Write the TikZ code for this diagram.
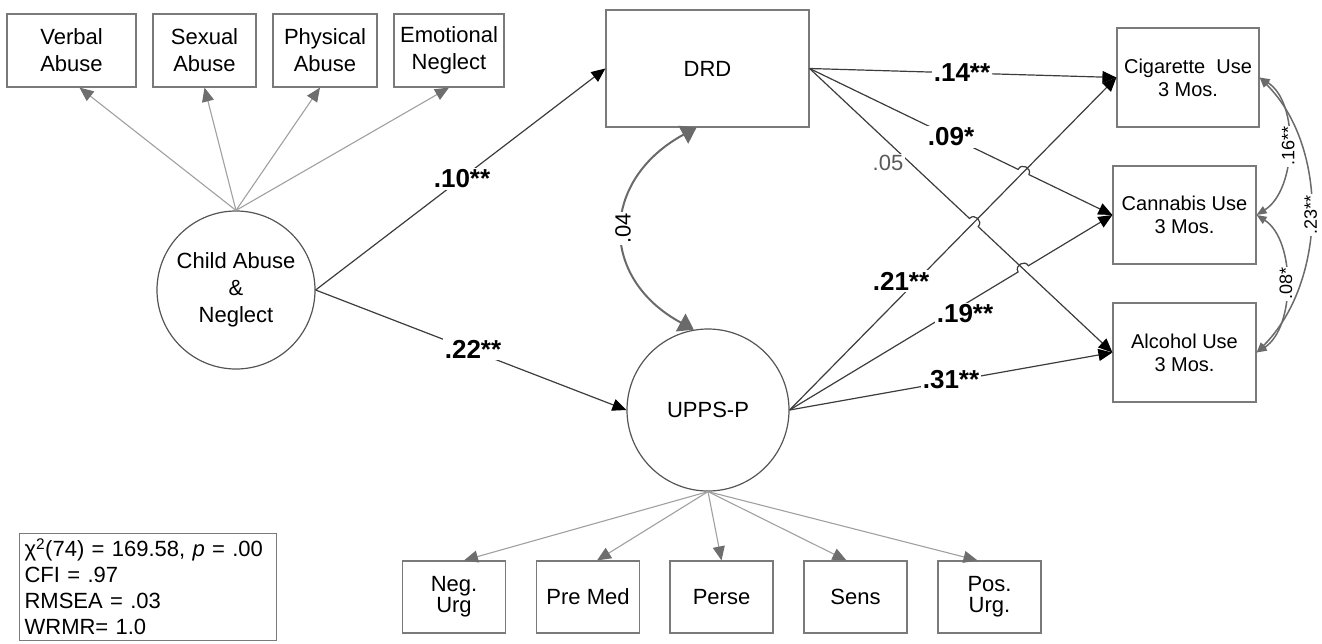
\documentclass[tikz,border=0pt]{standalone}
\usepackage{fontspec}
\setmainfont{Liberation Sans}
\usetikzlibrary{arrows.meta,calc,intersections}
\lineskiplimit=-30pt
\definecolor{boxgray}{HTML}{7A7A7A}
\definecolor{circgray}{HTML}{555555}
\definecolor{indgray}{HTML}{A0A0A0}
\definecolor{tipgray}{HTML}{6E6E6E}
\definecolor{linegray}{HTML}{3C3C3C}
\definecolor{covgray}{HTML}{6A6A6A}
\definecolor{lblgray}{HTML}{5A5A5A}
\begin{document}
\begin{tikzpicture}[x=1pt,y=-1pt,
  boxnode/.style={draw=boxgray,line width=1.2pt,inner sep=0pt,align=center,
    font=\fontsize{22}{27}\selectfont},
  outbox/.style={boxnode,font=\fontsize{20}{23}\selectfont},
  lowbox/.style={boxnode,minimum width=103pt,minimum height=72pt,
    font=\fontsize{22}{21}\selectfont},
  latent/.style={draw=circgray,line width=1.2pt,circle,inner sep=0pt,align=center,
    font=\fontsize{22}{27}\selectfont},
  indarrow/.style={draw=indgray,line width=1.1pt,-{Triangle[length=14pt,width=12pt,color=tipgray]}},
  patharrow/.style={draw=linegray,line width=1.2pt,-{Triangle[length=14pt,width=12pt,color=black]}},
  covbig/.style={draw=covgray,line width=2pt,
    {Triangle[length=15pt,width=20pt,color=covgray]}-{Triangle[length=15pt,width=20pt,color=covgray]}},
  covsmall/.style={draw=covgray,line width=1.5pt,
    {Triangle[length=10pt,width=8pt,color=covgray]}-{Triangle[length=10pt,width=8pt,color=covgray]}},
  coef/.style={fill=white,inner sep=1.5pt,font=\fontsize{26}{28}\selectfont\bfseries},
  coefns/.style={fill=white,inner sep=1.5pt,font=\fontsize{22}{24}\selectfont},
  arclab/.style={fill=white,inner sep=1pt,rotate=90,font=\fontsize{18}{18}\selectfont}
]
\useasboundingbox (0,0) rectangle (1322,643);

% indicator boxes (top)
\node[boxnode,minimum width=129pt,minimum height=73pt] (verbal) at (71.5,50.5) {Verbal\\Abuse};
\node[boxnode,minimum width=103pt,minimum height=73pt] (sexual) at (204.5,50.5) {Sexual\\Abuse};
\node[boxnode,minimum width=104pt,minimum height=73pt] (physical) at (325,50.5) {Physical\\Abuse};
\node[boxnode,minimum width=110pt,minimum height=73pt] (emotional) at (449,50.5) {Emotional\\Neglect};

% latent variables
\node[latent,minimum size=158pt] (child) at (236,290) {Child Abuse\\\&\\Neglect};
\node[latent,minimum size=162pt] (upps) at (708,410) {UPPS-P};

% DRD
\node[boxnode,minimum width=203pt,minimum height=117pt] (drd) at (707.5,68.5) {DRD};

% outcomes
\node[outbox,minimum width=142pt,minimum height=99pt] (cig) at (1188,77.5) {Cigarette~ Use\\3 Mos.};
\node[outbox,minimum width=143pt,minimum height=98pt] (can) at (1184.5,215) {Cannabis Use\\3 Mos.};
\node[outbox,minimum width=143pt,minimum height=99pt] (alc) at (1184.5,352.5) {Alcohol Use\\3 Mos.};

% indicator boxes (bottom)
\node[lowbox] (neg) at (454,597) {Neg.\\Urg};
\node[lowbox] (pre) at (588,597) {Pre Med};
\node[lowbox] (perse) at (721.5,597) {Perse};
\node[lowbox] (sens) at (855.5,597) {Sens};
\node[lowbox] (pos) at (989.5,597) {Pos.\\Urg.};

% fit box
\node[draw=boxgray,line width=1.2pt,anchor=north west,inner xsep=5pt,inner ysep=5pt,
  text width=247pt,align=left,font=\fontsize{22}{26}\selectfont] (fit) at (19,533)
  {χ\textsuperscript{2}(74) = 169.58, \textit{p} = .00\\CFI = .97\\RMSEA = .03\\WRMR= 1.0};

% measurement arrows
\draw[indarrow] (child.north) -- ([xshift=8pt]verbal.south);
\draw[indarrow] (child.north) -- (sexual.south);
\draw[indarrow] (child.north) -- ([xshift=-5pt]physical.south);
\draw[indarrow] (child.north) -- (emotional.south);
\draw[indarrow] (upps.south) -- ([xshift=10pt]neg.north);
\draw[indarrow] (upps.south) -- ([xshift=9pt]pre.north);
\draw[indarrow] (upps.south) -- (perse.north);
\draw[indarrow] (upps.south) -- ([xshift=-9pt]sens.north);
\draw[indarrow] (upps.south) -- ([xshift=-12pt]pos.north);

% structural paths
\draw[patharrow] (child.east) -- (drd.west);
\draw[patharrow] (child.east) -- (upps.west);
\draw[patharrow] (drd.east) -- (cig.west);
\draw[patharrow] (upps.east) -- (cig.west);
\draw[patharrow] (upps.east) -- (alc.west);

\path[name path=pUC] (upps.east) -- (cig.west);
\path[name path=pDN] (drd.east) -- (can.west);
\path[name path=pDA] (drd.east) -- (alc.west);
\path[name path=pUN] (upps.east) -- (can.west);
\path[name intersections={of=pUC and pDN, by=h1}];
\path[name intersections={of=pUC and pDA, by=h2}];
\path[name intersections={of=pUN and pDA, by=h3}];

\draw[patharrow] (drd.east) -- ($(h1)!6pt!(drd.east)$) to[bend left=90,looseness=1.6] ($(h1)!6pt!(can.west)$) -- (can.west);
\draw[patharrow] (drd.east) -- ($(h2)!6pt!(drd.east)$) to[bend left=90,looseness=1.6] ($(h2)!6pt!(alc.west)$) -- (alc.west);
\draw[patharrow] (upps.east) -- ($(h3)!6pt!(upps.east)$) to[bend left=90,looseness=1.6] ($(h3)!6pt!(can.west)$) -- (can.west);

% covariance DRD - UPPS
\coordinate (dtop) at ([xshift=-11pt]drd.south);
\coordinate (utop) at (upps.100);
\draw[covbig] (dtop) .. controls ($(dtop)+(-96,52)$) and ($(utop)+(-96,-52)$) .. (utop)
  node[pos=0.5,rotate=90,fill=white,inner sep=1pt,font=\fontsize{22}{24}\selectfont] (l04) {.04};

% residual covariances of outcomes
\draw[covsmall] (cig.east) .. controls ($(cig.east)+(40,25)$) and ($(can.east)+(40,-25)$) .. (can.east)
  node[pos=0.5,arclab] (l16) {.16**};
\draw[covsmall] (can.east) .. controls ($(can.east)+(39,25)$) and ($(alc.east)+(39,-25)$) .. (alc.east)
  node[pos=0.5,arclab] (l08) {.08*};
\draw[covsmall] (cig.east) .. controls ($(cig.east)+(70,70)$) and ($(alc.east)+(70,-70)$) .. (alc.east)
  node[pos=0.5,arclab] (l23) {.23**};

% coefficient labels
\node[coef] (l10) at (462,179) {.10**};
\node[coef] (l22) at (473,349) {.22**};
\node[coef] (l14) at (962,73) {.14**};
\node[coef] (l09) at (951,137) {.09*};
\node[coefns,text=lblgray] (l05) at (888,163) {.05};
\node[coef] (l21) at (901,281) {.21**};
\node[coef] (l19) at (965,314) {.19**};
\node[coef] (l31) at (951,380) {.31**};
\end{tikzpicture}
\end{document}
